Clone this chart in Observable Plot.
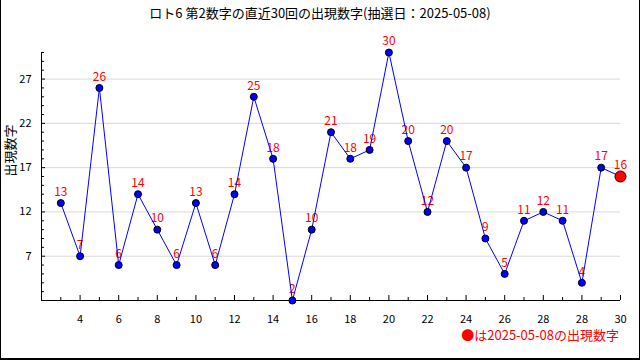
<!DOCTYPE html>
<html>
<head>
<meta charset="utf-8">
<script src="https://cdn.jsdelivr.net/npm/d3@7"></script>
<script src="https://cdn.jsdelivr.net/npm/@observablehq/plot@0.6"></script>
<style>
  body { margin: 0; background: #fff; }
  #wrap { position: relative; width: 640px; height: 360px; overflow: hidden; font-family: "Noto Sans CJK JP", sans-serif; }
  #title { position: absolute; left: 0; top: 6px; width: 640px; text-align: center; font-size: 13px; line-height: 14px; color: #000; }
  #legend { position: absolute; right: 21px; top: 328px; font-size: 13px; line-height: 14px; color: #ff0000; white-space: nowrap; }
  #border { position: absolute; left: 0; top: 0; width: 640px; height: 360px; box-sizing: border-box;
            border-left: 1px solid #000; border-right: 1px solid #000; border-bottom: 2px solid #000; pointer-events: none; }
  #chart svg { display: block; }
</style>
</head>
<body>
<div id="wrap">
  <div id="chart"></div>
  <div id="title">ロト6 第2数字の直近30回の出現数字(抽選日：2025-05-08)</div>
  <div id="legend">●は2025-05-08の出現数字</div>
  <div id="border"></div>
</div>
<script>
// ---- data ----
const draws = [1,2,3,4,5,6,7,8,9,10,11,12,13,14,15,16,17,18,19,20,21,22,23,24,25,26,27,28,29,30];
const values = [13,7,26,6,14,10,6,13,6,14,25,18,2,10,21,18,19,30,20,12,20,17,9,5,11,12,11,4,17,16];
const xMajorTicks = [2,4,6,8,10,12,14,16,18,20,22,24,26,28,30];
const xTickLabels = ["4","6","8","10","12","14","16","18","20","22","24","26","28","28","30"];
const xMinorTicks = [1,3,5,7,9,11,13,15,17,19,21,23,25,27,29];
const yMajorTicks = [7,12,17,22,27];
const yMinorTicks = [3,4,5,6,8,9,10,11,13,14,15,16,18,19,20,21,23,24,25,26,28,29,30];
const yLabel = "出現数字";

const data = draws.map((d, i) => ({draw: d, value: values[i], latest: i === values.length - 1}));
const past = data.filter(d => !d.latest);
const latest = data.filter(d => d.latest);
const xLabelMap = new Map(xMajorTicks.map((t, i) => [t, xTickLabels[i]]));

const chart = Plot.plot({
  width: 640,
  height: 360,
  marginLeft: 41,
  marginRight: 20,
  marginTop: 52,
  marginBottom: 60,
  style: {fontFamily: "'Noto Sans CJK JP', sans-serif", fontSize: "11px", background: "transparent", color: "#000"},
  x: {domain: [0, 30]},
  y: {domain: [2, 30]},
  marks: [
    Plot.ruleY(yMajorTicks, {stroke: "#d9d9d9"}),
    // y axis ticks (inside)
    Plot.axisY({ticks: yMinorTicks, tickSize: -3, text: null, label: null}),
    Plot.axisY({ticks: yMajorTicks, tickSize: -4, text: null, label: null}),
    Plot.axisY({ticks: yMajorTicks, tickSize: 0, tickPadding: 10, label: null, fontSize: 11}),
    // x axis ticks (inside)
    Plot.axisX({ticks: xMinorTicks, tickSize: -3, text: null, label: null}),
    Plot.axisX({ticks: xMajorTicks, tickSize: -5, text: null, label: null}),
    Plot.axisX({ticks: xMajorTicks, tickSize: 0, tickPadding: 15, tickFormat: d => xLabelMap.get(d), label: null, fontSize: 11}),
    Plot.ruleX([0], {stroke: "#000"}),
    Plot.ruleY([2], {stroke: "#000"}),
    Plot.text([yLabel], {frameAnchor: "left", text: d => d, rotate: -90, dx: -31, fontSize: 13}),
    // value labels
    Plot.text(data, {x: "draw", y: "value", text: d => String(d.value), dy: -11, fill: "#ff0000", fontSize: 12}),
    Plot.line(data, {x: "draw", y: "value", stroke: "#0000ff", strokeWidth: 1}),
    Plot.dot(past, {x: "draw", y: "value", r: 3.5, fill: "#0000ff", stroke: "#000", strokeWidth: 1}),
    Plot.dot(latest, {x: "draw", y: "value", r: 5.5, fill: "#ff0000", stroke: "#000", strokeWidth: 1})
  ]
});
document.getElementById("chart").appendChild(chart);
</script>
</body>
</html>
